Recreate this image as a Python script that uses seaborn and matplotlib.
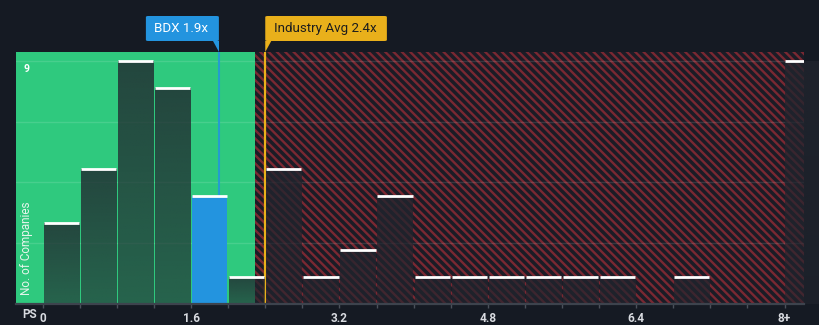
import numpy as np
import pandas as pd
import matplotlib
matplotlib.use("Agg")
import matplotlib.pyplot as plt
from matplotlib.patches import Polygon, FancyBboxPatch
import seaborn as sns

# Price-to-sales distribution of peer companies (bins of 0.4x, last bin is 8x and above)
bin_edges = [round(v, 1) for v in np.arange(0, 8.41, 0.4)]
company_counts = [3, 5, 9, 8, 4, 1, 5, 1, 2, 4, 1, 1, 1, 1, 1, 1, 0, 1, 0, 0, 9]
tick_values = [0, 1.6, 3.2, 4.8, 6.4, 8.0]
tick_labels = ["0", "1.6", "3.2", "4.8", "6.4", "8+"]

company_name = "BDX"
company_ps = 1.9
industry_avg = 2.4
fair_upper = 2.29          # end of the green (good value) zone
y_grid_top = 9

BG = "#151a23"
GREEN = "#2fc97e"
RED_HATCH = "#7a2832"
BLUE = "#2394df"
GOLD = "#e9b01b"
TXT = "#d8dbe0"

sns.set_theme(style="dark")
plt.rcParams["font.family"] = ["Roboto", "DejaVu Sans"]
plt.rcParams["hatch.linewidth"] = 1.7

fig = plt.figure(figsize=(8.2, 3.25), dpi=100, facecolor=BG)
ax = fig.add_axes([16 / 820, 21 / 325, 788 / 820, 252 / 325])
ax.set_facecolor(BG)

xmin, xmax = -0.288, 8.21
ymax = 9.33

# value zones
ax.axvspan(xmin, fair_upper, color=GREEN, lw=0, zorder=0)
ax.axvspan(fair_upper, xmax, facecolor="#1b1c26", edgecolor=RED_HATCH,
           hatch="\\\\\\\\", lw=0, zorder=0)

# horizontal grid at quarters of the top value
for g in np.linspace(0, y_grid_top, 5)[1:]:
    ax.axhline(g, color="white", alpha=0.12, lw=1, zorder=0.5)

# reference lines
ax.plot([company_ps, company_ps], [0, ymax], color=BLUE, alpha=0.85, lw=1.5,
        zorder=1, solid_capstyle="butt")
ax.plot([industry_avg, industry_avg], [0, ymax], color=GOLD, lw=1.6, zorder=1,
        solid_capstyle="butt")

centers = [(a + b) / 2 for a, b in zip(bin_edges[:-1], bin_edges[1:])]
df = pd.DataFrame({"ps": centers, "n": company_counts})
sns.histplot(data=df, x="ps", weights="n", bins=bin_edges, ax=ax, shrink=0.95,
             color="#111c20", alpha=1, lw=0, zorder=2)
bars = ax.containers[-1]

# translucent dark bars with a vertical fade, company bin in blue
fade = np.zeros((64, 1, 4))
fade[..., 0], fade[..., 1], fade[..., 2] = 33 / 255, 37 / 255, 46 / 255
fade[:, 0, 3] = np.linspace(0.80, 0.62, 64)
for patch, cnt in zip(bars.patches, company_counts):
    if cnt == 0:
        patch.set_visible(False)
        continue
    x0, w, h = patch.get_x(), patch.get_width(), patch.get_height()
    if x0 <= company_ps < x0 + w:
        patch.set_facecolor(BLUE)
    else:
        patch.set_facecolor("none")
        im = ax.imshow(fade, extent=[x0, x0 + w, 0, h], origin="upper",
                       aspect="auto", zorder=2, interpolation="bilinear")
        im.set_clip_path(patch)
    ax.plot([x0, x0 + w], [h, h], color="white", lw=2, zorder=3,
            solid_capstyle="butt")
ax.set_xlim(xmin, xmax)
ax.set_ylim(0, ymax)

# axes styling
for s in ["top", "right", "left"]:
    ax.spines[s].set_visible(False)
ax.spines["bottom"].set_color("#3d434d")
ax.spines["bottom"].set_linewidth(1.6)
ax.set_xticks(bin_edges[:-1])
ax.set_xticklabels([tick_labels[tick_values.index(v)] if v in tick_values else ""
                    for v in bin_edges[:-1]])
ax.tick_params(axis="x", colors="#4a505a", length=3, width=1, pad=3, labelsize=8.5,
               labelcolor=TXT, bottom=True)
for lbl in ax.get_xticklabels():
    lbl.set_fontweight("bold")
ax.set_yticks([])
ax.set_xlabel("")
ax.set_ylabel("")
ax.grid(False)

fig.text(22 / 820, 7 / 325, "PS", color=TXT, fontsize=8.5, fontweight="bold",
         ha="left", va="baseline")
ax.text(11 / 788, y_grid_top - 0.3, "9", transform=ax.get_yaxis_transform(),
        color="white", fontsize=7.5, fontweight="bold", ha="center", va="center")
ax.text(11 / 788, 0.035, "No. of Companies", transform=ax.transAxes, rotation=90,
        color="#e6f5ec", fontsize=8.5, ha="center", va="bottom")

# callout labels
W = fig.get_figwidth() * fig.dpi
H = fig.get_figheight() * fig.dpi


def callout(x_data, text, face, tcolor, side):
    renderer = fig.canvas.get_renderer()
    xd = ax.transData.transform((x_data, 0))[0]
    xf = xd / W
    bh = 25 / H
    by = (325 - 41) / H
    t = fig.text(0, by + bh / 2, text, color=tcolor, fontsize=9.6,
                 ha="left", va="center", zorder=5)
    tw_px = t.get_window_extent(renderer).width
    box_w = (tw_px + 19) / W
    x0 = xf - box_w if side == "left" else xf
    t.set_x(x0 + 8.5 / W)
    fig.patches.append(FancyBboxPatch((x0, by), box_w, bh,
                                      boxstyle="round,pad=0,rounding_size=0.003",
                                      transform=fig.transFigure, facecolor=face,
                                      edgecolor="none"))
    d = 6 / W
    tip = (325 - 52) / H
    if side == "left":
        pts = [(xf - d, by), (xf, by), (xf, tip)]
    else:
        pts = [(xf, by), (xf + d, by), (xf, tip)]
    fig.patches.append(Polygon(pts, closed=True, transform=fig.transFigure,
                               facecolor=face, edgecolor="none"))


callout(company_ps, f"{company_name} {company_ps}x", BLUE, "white", "left")
callout(industry_avg, f"Industry Avg {industry_avg}x", GOLD, "#1d1d1d", "right")

fig.savefig("out.png", dpi=100, facecolor=BG)
